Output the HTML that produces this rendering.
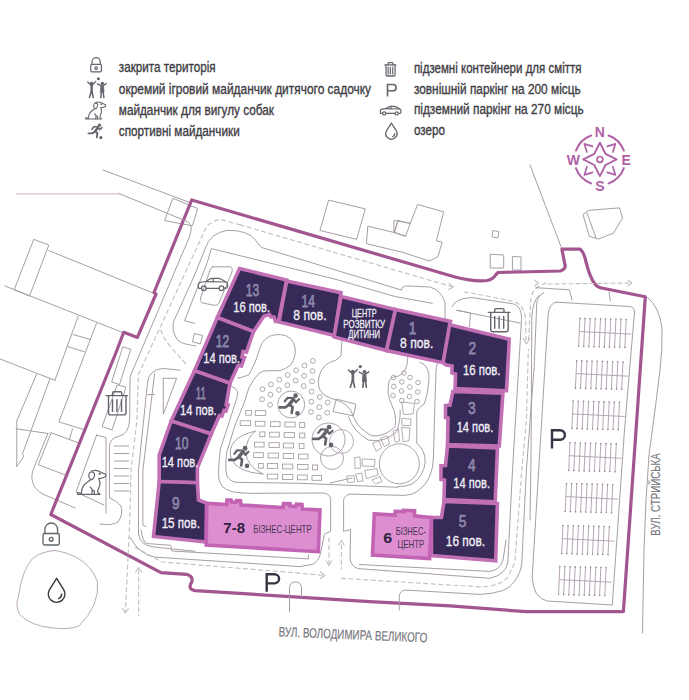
<!DOCTYPE html><html><head><meta charset="utf-8"><style>html,body{margin:0;padding:0;background:#fff;width:689px;height:700px;overflow:hidden}text{font-family:"Liberation Sans",sans-serif}</style></head><body><svg width="689" height="700" viewBox="0 0 689 700" style="display:block">
<rect width="689" height="700" fill="#ffffff"/>
<g font-family="Liberation Sans, sans-serif">
<path d="M103.0 170.0 L189.4 202.4" fill="none" stroke="#a398a3" stroke-width="0.95" stroke-linejoin="round" stroke-linecap="round"/>
<path d="M16.3 193.8 L119.5 193.8" fill="none" stroke="#dcc0d6" stroke-width="1.2" stroke-linejoin="round" stroke-linecap="round"/>
<path d="M173.2 198.4 L197.5 208.5 L192.5 225.8 L165.0 220.7 Z" fill="none" stroke="#a398a3" stroke-width="0.95" stroke-linejoin="round" stroke-linecap="round"/>
<path d="M34.1 239.5 L48.8 245.0 L29.5 296.2 L14.6 289.7 Z" fill="none" stroke="#a398a3" stroke-width="0.95" stroke-linejoin="round" stroke-linecap="round"/>
<path d="M48.8 250.5 L154.0 293.4" fill="none" stroke="#a398a3" stroke-width="0.95" stroke-linejoin="round" stroke-linecap="round"/>
<path d="M5.0 286.0 L124.0 333.0" fill="none" stroke="#a398a3" stroke-width="0.95" stroke-linejoin="round" stroke-linecap="round"/>
<path d="M0.0 359.0 L54.9 380.3" fill="none" stroke="#a398a3" stroke-width="0.95" stroke-linejoin="round" stroke-linecap="round"/>
<path d="M78.2 316.3 L54.9 380.3" fill="none" stroke="#a398a3" stroke-width="0.95" stroke-linejoin="round" stroke-linecap="round"/>
<path d="M96.5 323.4 L58.9 421.9 L85.3 430.0" fill="none" stroke="#a398a3" stroke-width="0.95" stroke-linejoin="round" stroke-linecap="round"/>
<path d="M73.2 334.5 L90.4 339.6" fill="none" stroke="#a398a3" stroke-width="0.95" stroke-linejoin="round" stroke-linecap="round"/>
<path d="M68.0 346.7 L84.3 351.8" fill="none" stroke="#a398a3" stroke-width="0.95" stroke-linejoin="round" stroke-linecap="round"/>
<path d="M36.6 374.2 L16.8 420.8 L16.8 466.3" fill="none" stroke="#a398a3" stroke-width="0.95" stroke-linejoin="round" stroke-linecap="round"/>
<path d="M49.8 379.3 L22.3 454.3 L24.0 456.0 L20.0 462.0 L16.8 466.3" fill="none" stroke="#a398a3" stroke-width="0.95" stroke-linejoin="round" stroke-linecap="round"/>
<path d="M16.0 428.7 L47.9 433.5" fill="none" stroke="#a398a3" stroke-width="0.95" stroke-linejoin="round" stroke-linecap="round"/>
<path d="M51.1 432.7 L80.0 443.5" fill="none" stroke="#a398a3" stroke-width="0.95" stroke-linejoin="round" stroke-linecap="round"/>
<path d="M51.1 432.7 L38.3 464.7 L68.0 476.0" fill="none" stroke="#a398a3" stroke-width="0.95" stroke-linejoin="round" stroke-linecap="round"/>
<path d="M72.6 428.7 L69.4 439.1" fill="none" stroke="#a398a3" stroke-width="0.95" stroke-linejoin="round" stroke-linecap="round"/>
<path d="M47.9 433.5 L33 470 C30 480 33 490 45 495 L75 508" fill="none" stroke="#a398a3" stroke-width="0.95" stroke-linejoin="round" stroke-linecap="round"/>
<path d="M329.0 200.2 L365.3 208.9 L356.6 239.3 L320.3 230.6 Z" fill="none" stroke="#a398a3" stroke-width="0.95" stroke-linejoin="round" stroke-linecap="round"/>
<path d="M368.2 226.3 L394.3 232.5 L398.0 220.5 L410.3 223.4 L417.6 204.5 L443.7 211.8 L436.4 240.8 L442.2 242.2 L437.9 256.8 L429.2 261.1 L403.0 252.4 L366.8 243.7 Z" fill="none" stroke="#a398a3" stroke-width="0.95" stroke-linejoin="round" stroke-linecap="round"/>
<path d="M394.3 220.5 L410.3 223.4 L405.5 236.4 L394.3 232.5 Z" fill="none" stroke="#a398a3" stroke-width="0.95" stroke-linejoin="round" stroke-linecap="round"/>
<path d="M398.0 220.5 L394.3 232.5 L406.0 236.0" fill="none" stroke="#a398a3" stroke-width="0.95" stroke-linejoin="round" stroke-linecap="round"/>
<path d="M493.0 230.6 L498.8 231.6 L498.0 237.9 L492.5 237.0 Z" fill="none" stroke="#a398a3" stroke-width="0.95" stroke-linejoin="round" stroke-linecap="round"/>
<path d="M490.6 254.3 L503.7 255.0 L503.7 268.0 L490.6 268.0 Z" fill="none" stroke="#a398a3" stroke-width="0.95" stroke-linejoin="round" stroke-linecap="round"/>
<path d="M512.8 256.4 L521.0 257.0 L521.0 270.0 L512.8 270.0 Z" fill="none" stroke="#a398a3" stroke-width="0.95" stroke-linejoin="round" stroke-linecap="round"/>
<path d="M589.2 210.3 L619.5 207.9 L622.6 217.9 L613.5 233.1 L598.3 239.1 L589.2 236.1 L583.1 214.9 Z" fill="none" stroke="#a398a3" stroke-width="0.95" stroke-linejoin="round" stroke-linecap="round"/>
<path d="M587.0 213.0 L596.0 238.0" fill="none" stroke="#a398a3" stroke-width="0.95" stroke-linejoin="round" stroke-linecap="round"/>
<path d="M530.0 165.0 L562.0 249.2" fill="none" stroke="#a398a3" stroke-width="0.95" stroke-linejoin="round" stroke-linecap="round"/>
<path d="M647.5 297.5 Q659 306 662 328 Q662.5 350 660 370 L655 410 L649 455 L646 500 L644 550 L642.5 633" fill="none" stroke="#a398a3" stroke-width="0.95" stroke-linejoin="round" stroke-linecap="round"/>
<path d="M50.8 514.5 L117.0 350.0 L123.7 332.3 L137.4 337.4 L156.0 294.0 L154.0 292.5 L191.7 200.0 L455.0 277.0 Q475 282 487 280.5 Q493 279.5 496 274.5 L498 272.5 L560.4 271 Q566 269 565 265 L561.9 249.2 L580.1 249.2 Q584 252 586 262 Q590 278 595.3 284.6 Q598 288 604 288.5 L645.3 296.8 L623.4 611.7 L526.3 611.7 L450 605.8 L369.7 601.7 L195 590.6 Q190.5 590 190 587 Q190 584.5 191.8 582 Q193.5 576.5 186.5 574.3 L161 572.6 Z" fill="none" stroke="#a2558f" stroke-width="3.2" stroke-linejoin="round"/>
<path d="M119.5 193.8 L187.6 221.7 Q192 224.5 191.1 230 Q190 237 186.5 243.8 L131.3 373.7 Q130 376 130 381 L129.6 420 Q129 434 118.5 436.4 Q110 438 109.5 446 L109.5 498 Q116 500 121 506 Q123.5 514 118 522 Q112 526 100 524" fill="none" stroke="#a398a3" stroke-width="0.95" stroke-linejoin="round" stroke-linecap="round"/>
<path d="M96.6 435.1 L106 437.5 L106 513 M96.6 435.1 L76 492 L104 505" fill="none" stroke="#a398a3" stroke-width="0.95" stroke-linejoin="round" stroke-linecap="round"/>
<path d="M123.2 347.0 L130.8 349.3 L119.5 384.5 L112.0 382.0 Z" fill="none" stroke="#a398a3" stroke-width="0.95" stroke-linejoin="round" stroke-linecap="round"/>
<path d="M117.5 385.0 L126.0 387.1 L112.1 430.0 L102.5 426.7 Z" fill="none" stroke="#a398a3" stroke-width="0.95" stroke-linejoin="round" stroke-linecap="round"/>
<path d="M114.3 446.0 L128.8 446.0" fill="none" stroke="#a398a3" stroke-width="0.95" stroke-linejoin="round" stroke-linecap="round"/>
<path d="M114.3 453.5 L128.8 453.5" fill="none" stroke="#a398a3" stroke-width="0.95" stroke-linejoin="round" stroke-linecap="round"/>
<path d="M114.3 461.0 L128.8 461.0" fill="none" stroke="#a398a3" stroke-width="0.95" stroke-linejoin="round" stroke-linecap="round"/>
<path d="M114.3 468.5 L128.8 468.5" fill="none" stroke="#a398a3" stroke-width="0.95" stroke-linejoin="round" stroke-linecap="round"/>
<path d="M114.3 476.0 L128.8 476.0" fill="none" stroke="#a398a3" stroke-width="0.95" stroke-linejoin="round" stroke-linecap="round"/>
<path d="M114.3 483.5 L128.8 483.5" fill="none" stroke="#a398a3" stroke-width="0.95" stroke-linejoin="round" stroke-linecap="round"/>
<path d="M114.3 491.0 L128.8 491.0" fill="none" stroke="#a398a3" stroke-width="0.95" stroke-linejoin="round" stroke-linecap="round"/>
<path d="M240 224.8 L220 219.4 Q208 222 205 229.8 L151.1 347 L138.3 374.8 L137 420 L131 470 L129.8 520 L125.4 612" fill="none" stroke="#c2c4c2" stroke-width="1.2" stroke-dasharray="4 3.5" stroke-linejoin="round" stroke-linecap="round"/>
<path d="M122.5 608.5 L125.4 613 L128.3 608.5" fill="none" stroke="#c2c4c2" stroke-width="1.2" stroke-linejoin="round" stroke-linecap="round"/>
<path d="M138.6 570 L138.6 615.5" fill="none" stroke="#c2c4c2" stroke-width="1.2" stroke-dasharray="4 3.5" stroke-linejoin="round" stroke-linecap="round"/>
<path d="M135.7 572 L138.6 567.5 L141.5 572" fill="none" stroke="#c2c4c2" stroke-width="1.2" stroke-linejoin="round" stroke-linecap="round"/>
<path d="M161 330.4 Q163 338 171.4 347.8 L186 364" fill="none" stroke="#c2c4c2" stroke-width="1.2" stroke-dasharray="4 3.5" stroke-linejoin="round" stroke-linecap="round"/>
<path d="M194.6 275 L205.2 248.6 Q210 233 227.5 230.3 Q248 230 256 240.5 Q259 246 262 247.6 L401.6 290.1 Q402 286 406.6 285.9 L429.8 287 Q441 290 445 302.2 L445 318.4" fill="none" stroke="#a398a3" stroke-width="0.95" stroke-linejoin="round" stroke-linecap="round"/>
<path d="M194.6 275 L173.8 321.1 Q171 330 177.2 339.7 Q181 343 186.5 344.3 L196 346" fill="none" stroke="#a398a3" stroke-width="0.95" stroke-linejoin="round" stroke-linecap="round"/>
<path d="M335 279.1 L211.3 248.6 L207.2 262.8 L184.5 320.8 L194.8 323.3" fill="none" stroke="#a398a3" stroke-width="0.95" stroke-linejoin="round" stroke-linecap="round"/>
<path d="M335 279.1 L395 296.5 L432.2 303.3" fill="none" stroke="#a398a3" stroke-width="0.95" stroke-linejoin="round" stroke-linecap="round"/>
<path d="M212.8 266.8 L230.8 266.8 Q233 268 232 272 L219 303 Q217.9 306 214 305.3 L202 302.8 Q199.5 301 200.5 298 L210 270 Q211 267 212.8 266.8 Z" fill="none" stroke="#a398a3" stroke-width="0.95" stroke-linejoin="round" stroke-linecap="round"/>
<path d="M194.8 333.6 L202.5 335.5 L200.5 343.9 L192.8 342.0 Z" fill="none" stroke="#a398a3" stroke-width="0.95" stroke-linejoin="round" stroke-linecap="round"/>
<path d="M147.6 381.8 Q149 370 162.7 368.4 L180 370.2" fill="none" stroke="#a398a3" stroke-width="0.95" stroke-linejoin="round" stroke-linecap="round"/>
<path d="M147.6 381.8 L138.5 470 L138.5 534 Q140 545 153 546.9 L195 551.3" fill="none" stroke="#a398a3" stroke-width="0.95" stroke-linejoin="round" stroke-linecap="round"/>
<path d="M154.6 373.7 L142.9 470 L142.9 525 L145.8 526.6" fill="none" stroke="#a398a3" stroke-width="0.95" stroke-linejoin="round" stroke-linecap="round"/>
<path d="M147.6 394.6 L154.6 394.6" fill="none" stroke="#a398a3" stroke-width="0.95" stroke-linejoin="round" stroke-linecap="round"/>
<path d="M163.3 378.3 L176.6 378.3 L163.3 414.3 L163.3 378.3" fill="none" stroke="#a398a3" stroke-width="0.95" stroke-linejoin="round" stroke-linecap="round"/>
<path d="M141.1 530 Q143 543 147.3 543.6 L170.7 545.3 L172 551 L300 558.4 L308.3 559 L308.3 555" fill="none" stroke="#a398a3" stroke-width="0.95" stroke-linejoin="round" stroke-linecap="round"/>
<path d="M130 537.4 Q140 555 154.7 557.1 L300 566.6" fill="none" stroke="#a398a3" stroke-width="0.95" stroke-linejoin="round" stroke-linecap="round"/>
<path d="M135 547.3 L162 562 L300 573.2 L323 575.3" fill="none" stroke="#c2c4c2" stroke-width="1.2" stroke-dasharray="4 3.5" stroke-linejoin="round" stroke-linecap="round"/>
<path d="M320.5 572 L324.8 575.5 L320.3 578.5" fill="none" stroke="#c2c4c2" stroke-width="1.2" stroke-linejoin="round" stroke-linecap="round"/>
<path d="M329 538 L329 564" fill="none" stroke="#c2c4c2" stroke-width="1.2" stroke-dasharray="4 3.5" stroke-linejoin="round" stroke-linecap="round"/>
<path d="M326.3 561 L329 565.5 L331.7 561" fill="none" stroke="#c2c4c2" stroke-width="1.2" stroke-linejoin="round" stroke-linecap="round"/>
<path d="M341.4 545 L341.4 568.6" fill="none" stroke="#c2c4c2" stroke-width="1.2" stroke-dasharray="4 3.5" stroke-linejoin="round" stroke-linecap="round"/>
<path d="M338.7 545 L341.4 540.5 L344.1 545" fill="none" stroke="#c2c4c2" stroke-width="1.2" stroke-linejoin="round" stroke-linecap="round"/>
<path d="M350.1 494.1 Q343.6 495.5 343.6 501 L343.6 531.3 L350.5 529.5 L350.1 559.1 Q351 566 357.9 568.6 L490 578.3 Q505 575 507.8 562.8 L512.5 470 L521.6 318.4 Q521.6 307 514 304 L471.6 297.5 Q455 298.5 451.9 306.8" fill="none" stroke="#a398a3" stroke-width="0.95" stroke-linejoin="round" stroke-linecap="round"/>
<path d="M359.3 564.5 L490 571.4 Q500 570 503 560 L506 540" fill="none" stroke="#a398a3" stroke-width="0.95" stroke-linejoin="round" stroke-linecap="round"/>
<path d="M341.4 578.3 L480 586.9 Q506 586 510 572 Q515 565 515.3 556 L521.8 470 L526.4 420 L528.4 349" fill="none" stroke="#c2c4c2" stroke-width="1.2" stroke-dasharray="4 3.5" stroke-linejoin="round" stroke-linecap="round"/>
<path d="M464 292 Q495 297 515 302 Q524 306 525.5 318 L526 342" fill="none" stroke="#c2c4c2" stroke-width="1.2" stroke-dasharray="4 3.5" stroke-linejoin="round" stroke-linecap="round"/>
<path d="M546 283 Q532 287 530.7 300 L528.5 342" fill="none" stroke="#c2c4c2" stroke-width="1.2" stroke-dasharray="4 3.5" stroke-linejoin="round" stroke-linecap="round"/>
<path d="M523.3 338.5 L526.5 344 L529.7 338.5" fill="none" stroke="#c2c4c2" stroke-width="1.2" stroke-linejoin="round" stroke-linecap="round"/>
<path d="M399.3 610 L399.3 596 Q400 591 405 590 L480 594.4 Q508 593 514 582 Q521 573 521.8 562.8 L526.4 470 L534.3 365 L536.7 304.5 Q537 296 543.6 292.9" fill="none" stroke="#a398a3" stroke-width="0.95" stroke-linejoin="round" stroke-linecap="round"/>
<path d="M289.5 612 L289.5 588 Q289.5 582 295.5 582 Q301.5 582 301.5 588 L301.5 597" fill="none" stroke="#a398a3" stroke-width="0.95" stroke-linejoin="round" stroke-linecap="round"/>
<path d="M240 224.8 L453 287" fill="none" stroke="#c2c4c2" stroke-width="1.2" stroke-dasharray="4 3.5" stroke-linejoin="round" stroke-linecap="round"/>
<path d="M449 283.5 L453.5 287 L448.5 289.5" fill="none" stroke="#c2c4c2" stroke-width="1.2" stroke-linejoin="round" stroke-linecap="round"/>
<path d="M456.5 310.3 L520.4 323.1" fill="none" stroke="#a398a3" stroke-width="0.95" stroke-linejoin="round" stroke-linecap="round"/>
<path d="M457.7 310.3 L470.5 313.0 L469.5 326.5" fill="none" stroke="#a398a3" stroke-width="0.95" stroke-linejoin="round" stroke-linecap="round"/>
<path d="M556.7 302.2 L630 306.5 Q634.5 307.5 634.5 312 L624.5 430 L612.3 605 L547.1 601 Q533 598 532.2 576.5 L548.2 314.3 Q549 303 556.7 302.2 Z" fill="none" stroke="#a398a3" stroke-width="0.95" stroke-linejoin="round" stroke-linecap="round"/>
<path d="M539.7 294.9 Q532 300 531.8 320 L531 460 L530 520" fill="none" stroke="#a398a3" stroke-width="0.95" stroke-linejoin="round" stroke-linecap="round"/>
<path d="M536 287.7 L569.5 289.8 L572 300" fill="none" stroke="#a398a3" stroke-width="0.95" stroke-linejoin="round" stroke-linecap="round"/>
<path d="M609 292 L610.4 301.3" fill="none" stroke="#a398a3" stroke-width="0.95" stroke-linejoin="round" stroke-linecap="round"/>
<line x1="579.9" y1="317.9" x2="578.6" y2="346.8" stroke="#b3a0b2" stroke-width="0.95"/>
<circle cx="579.9" cy="318.4" r="0.8" fill="#9a8098"/>
<circle cx="578.6" cy="346.3" r="0.8" fill="#9a8098"/>
<line x1="585.0" y1="318.0" x2="583.7" y2="346.9" stroke="#b3a0b2" stroke-width="0.95"/>
<circle cx="585.0" cy="318.5" r="0.8" fill="#9a8098"/>
<circle cx="583.7" cy="346.4" r="0.8" fill="#9a8098"/>
<line x1="590.2" y1="318.2" x2="588.9" y2="347.1" stroke="#b3a0b2" stroke-width="0.95"/>
<circle cx="590.2" cy="318.7" r="0.8" fill="#9a8098"/>
<circle cx="588.9" cy="346.6" r="0.8" fill="#9a8098"/>
<line x1="595.3" y1="318.3" x2="594.0" y2="347.2" stroke="#b3a0b2" stroke-width="0.95"/>
<circle cx="595.3" cy="318.8" r="0.8" fill="#9a8098"/>
<circle cx="594.0" cy="346.7" r="0.8" fill="#9a8098"/>
<line x1="600.5" y1="318.4" x2="599.2" y2="347.3" stroke="#b3a0b2" stroke-width="0.95"/>
<circle cx="600.5" cy="318.9" r="0.8" fill="#9a8098"/>
<circle cx="599.2" cy="346.8" r="0.8" fill="#9a8098"/>
<line x1="605.6" y1="318.5" x2="604.3" y2="347.4" stroke="#b3a0b2" stroke-width="0.95"/>
<circle cx="605.6" cy="319.0" r="0.8" fill="#9a8098"/>
<circle cx="604.3" cy="346.9" r="0.8" fill="#9a8098"/>
<line x1="610.7" y1="318.7" x2="609.4" y2="347.6" stroke="#b3a0b2" stroke-width="0.95"/>
<circle cx="610.7" cy="319.2" r="0.8" fill="#9a8098"/>
<circle cx="609.4" cy="347.1" r="0.8" fill="#9a8098"/>
<line x1="615.9" y1="318.8" x2="614.6" y2="347.7" stroke="#b3a0b2" stroke-width="0.95"/>
<circle cx="615.9" cy="319.3" r="0.8" fill="#9a8098"/>
<circle cx="614.6" cy="347.2" r="0.8" fill="#9a8098"/>
<line x1="621.0" y1="318.9" x2="619.7" y2="347.8" stroke="#b3a0b2" stroke-width="0.95"/>
<circle cx="621.0" cy="319.4" r="0.8" fill="#9a8098"/>
<circle cx="619.7" cy="347.3" r="0.8" fill="#9a8098"/>
<line x1="626.2" y1="319.1" x2="624.9" y2="348.0" stroke="#b3a0b2" stroke-width="0.95"/>
<circle cx="626.2" cy="319.6" r="0.8" fill="#9a8098"/>
<circle cx="624.9" cy="347.5" r="0.8" fill="#9a8098"/>
<line x1="579.1" y1="331.5" x2="631.4" y2="334.1" stroke="#b3a0b2" stroke-width="0.95"/>
<line x1="576.7" y1="360.3" x2="575.4" y2="388.6" stroke="#b3a0b2" stroke-width="0.95"/>
<circle cx="576.7" cy="360.8" r="0.8" fill="#9a8098"/>
<circle cx="575.4" cy="388.1" r="0.8" fill="#9a8098"/>
<line x1="581.8" y1="360.4" x2="580.5" y2="388.7" stroke="#b3a0b2" stroke-width="0.95"/>
<circle cx="581.8" cy="360.9" r="0.8" fill="#9a8098"/>
<circle cx="580.5" cy="388.2" r="0.8" fill="#9a8098"/>
<line x1="587.0" y1="360.6" x2="585.7" y2="388.9" stroke="#b3a0b2" stroke-width="0.95"/>
<circle cx="587.0" cy="361.1" r="0.8" fill="#9a8098"/>
<circle cx="585.7" cy="388.4" r="0.8" fill="#9a8098"/>
<line x1="592.1" y1="360.7" x2="590.8" y2="389.0" stroke="#b3a0b2" stroke-width="0.95"/>
<circle cx="592.1" cy="361.2" r="0.8" fill="#9a8098"/>
<circle cx="590.8" cy="388.5" r="0.8" fill="#9a8098"/>
<line x1="597.3" y1="360.8" x2="596.0" y2="389.1" stroke="#b3a0b2" stroke-width="0.95"/>
<circle cx="597.3" cy="361.3" r="0.8" fill="#9a8098"/>
<circle cx="596.0" cy="388.6" r="0.8" fill="#9a8098"/>
<line x1="602.4" y1="360.9" x2="601.1" y2="389.2" stroke="#b3a0b2" stroke-width="0.95"/>
<circle cx="602.4" cy="361.4" r="0.8" fill="#9a8098"/>
<circle cx="601.1" cy="388.8" r="0.8" fill="#9a8098"/>
<line x1="607.5" y1="361.1" x2="606.2" y2="389.4" stroke="#b3a0b2" stroke-width="0.95"/>
<circle cx="607.5" cy="361.6" r="0.8" fill="#9a8098"/>
<circle cx="606.2" cy="388.9" r="0.8" fill="#9a8098"/>
<line x1="612.7" y1="361.2" x2="611.4" y2="389.5" stroke="#b3a0b2" stroke-width="0.95"/>
<circle cx="612.7" cy="361.7" r="0.8" fill="#9a8098"/>
<circle cx="611.4" cy="389.0" r="0.8" fill="#9a8098"/>
<line x1="617.8" y1="361.3" x2="616.5" y2="389.6" stroke="#b3a0b2" stroke-width="0.95"/>
<circle cx="617.8" cy="361.8" r="0.8" fill="#9a8098"/>
<circle cx="616.5" cy="389.1" r="0.8" fill="#9a8098"/>
<line x1="623.0" y1="361.5" x2="621.7" y2="389.8" stroke="#b3a0b2" stroke-width="0.95"/>
<circle cx="623.0" cy="362.0" r="0.8" fill="#9a8098"/>
<circle cx="621.7" cy="389.3" r="0.8" fill="#9a8098"/>
<line x1="575.9" y1="373.6" x2="628.2" y2="376.2" stroke="#b3a0b2" stroke-width="0.95"/>
<line x1="573.2" y1="400.6" x2="571.9" y2="429.0" stroke="#b3a0b2" stroke-width="0.95"/>
<circle cx="573.2" cy="401.1" r="0.8" fill="#9a8098"/>
<circle cx="571.9" cy="428.5" r="0.8" fill="#9a8098"/>
<line x1="578.3" y1="400.7" x2="577.0" y2="429.1" stroke="#b3a0b2" stroke-width="0.95"/>
<circle cx="578.3" cy="401.2" r="0.8" fill="#9a8098"/>
<circle cx="577.0" cy="428.6" r="0.8" fill="#9a8098"/>
<line x1="583.5" y1="400.9" x2="582.2" y2="429.3" stroke="#b3a0b2" stroke-width="0.95"/>
<circle cx="583.5" cy="401.4" r="0.8" fill="#9a8098"/>
<circle cx="582.2" cy="428.8" r="0.8" fill="#9a8098"/>
<line x1="588.6" y1="401.0" x2="587.3" y2="429.4" stroke="#b3a0b2" stroke-width="0.95"/>
<circle cx="588.6" cy="401.5" r="0.8" fill="#9a8098"/>
<circle cx="587.3" cy="428.9" r="0.8" fill="#9a8098"/>
<line x1="593.8" y1="401.1" x2="592.5" y2="429.5" stroke="#b3a0b2" stroke-width="0.95"/>
<circle cx="593.8" cy="401.6" r="0.8" fill="#9a8098"/>
<circle cx="592.5" cy="429.0" r="0.8" fill="#9a8098"/>
<line x1="598.9" y1="401.2" x2="597.6" y2="429.6" stroke="#b3a0b2" stroke-width="0.95"/>
<circle cx="598.9" cy="401.8" r="0.8" fill="#9a8098"/>
<circle cx="597.6" cy="429.1" r="0.8" fill="#9a8098"/>
<line x1="604.0" y1="401.4" x2="602.7" y2="429.8" stroke="#b3a0b2" stroke-width="0.95"/>
<circle cx="604.0" cy="401.9" r="0.8" fill="#9a8098"/>
<circle cx="602.7" cy="429.3" r="0.8" fill="#9a8098"/>
<line x1="609.2" y1="401.5" x2="607.9" y2="429.9" stroke="#b3a0b2" stroke-width="0.95"/>
<circle cx="609.2" cy="402.0" r="0.8" fill="#9a8098"/>
<circle cx="607.9" cy="429.4" r="0.8" fill="#9a8098"/>
<line x1="614.3" y1="401.6" x2="613.0" y2="430.0" stroke="#b3a0b2" stroke-width="0.95"/>
<circle cx="614.3" cy="402.1" r="0.8" fill="#9a8098"/>
<circle cx="613.0" cy="429.5" r="0.8" fill="#9a8098"/>
<line x1="619.5" y1="401.8" x2="618.2" y2="430.2" stroke="#b3a0b2" stroke-width="0.95"/>
<circle cx="619.5" cy="402.3" r="0.8" fill="#9a8098"/>
<circle cx="618.2" cy="429.7" r="0.8" fill="#9a8098"/>
<line x1="572.4" y1="413.9" x2="624.7" y2="416.5" stroke="#b3a0b2" stroke-width="0.95"/>
<line x1="570.0" y1="442.2" x2="568.7" y2="471.0" stroke="#b3a0b2" stroke-width="0.95"/>
<circle cx="570.0" cy="442.7" r="0.8" fill="#9a8098"/>
<circle cx="568.7" cy="470.5" r="0.8" fill="#9a8098"/>
<line x1="575.1" y1="442.3" x2="573.8" y2="471.1" stroke="#b3a0b2" stroke-width="0.95"/>
<circle cx="575.1" cy="442.8" r="0.8" fill="#9a8098"/>
<circle cx="573.8" cy="470.6" r="0.8" fill="#9a8098"/>
<line x1="580.3" y1="442.5" x2="579.0" y2="471.3" stroke="#b3a0b2" stroke-width="0.95"/>
<circle cx="580.3" cy="443.0" r="0.8" fill="#9a8098"/>
<circle cx="579.0" cy="470.8" r="0.8" fill="#9a8098"/>
<line x1="585.4" y1="442.6" x2="584.1" y2="471.4" stroke="#b3a0b2" stroke-width="0.95"/>
<circle cx="585.4" cy="443.1" r="0.8" fill="#9a8098"/>
<circle cx="584.1" cy="470.9" r="0.8" fill="#9a8098"/>
<line x1="590.6" y1="442.7" x2="589.3" y2="471.5" stroke="#b3a0b2" stroke-width="0.95"/>
<circle cx="590.6" cy="443.2" r="0.8" fill="#9a8098"/>
<circle cx="589.3" cy="471.0" r="0.8" fill="#9a8098"/>
<line x1="595.7" y1="442.8" x2="594.4" y2="471.6" stroke="#b3a0b2" stroke-width="0.95"/>
<circle cx="595.7" cy="443.3" r="0.8" fill="#9a8098"/>
<circle cx="594.4" cy="471.1" r="0.8" fill="#9a8098"/>
<line x1="600.8" y1="443.0" x2="599.5" y2="471.8" stroke="#b3a0b2" stroke-width="0.95"/>
<circle cx="600.8" cy="443.5" r="0.8" fill="#9a8098"/>
<circle cx="599.5" cy="471.3" r="0.8" fill="#9a8098"/>
<line x1="606.0" y1="443.1" x2="604.7" y2="471.9" stroke="#b3a0b2" stroke-width="0.95"/>
<circle cx="606.0" cy="443.6" r="0.8" fill="#9a8098"/>
<circle cx="604.7" cy="471.4" r="0.8" fill="#9a8098"/>
<line x1="611.1" y1="443.2" x2="609.8" y2="472.0" stroke="#b3a0b2" stroke-width="0.95"/>
<circle cx="611.1" cy="443.7" r="0.8" fill="#9a8098"/>
<circle cx="609.8" cy="471.5" r="0.8" fill="#9a8098"/>
<line x1="616.3" y1="443.4" x2="615.0" y2="472.2" stroke="#b3a0b2" stroke-width="0.95"/>
<circle cx="616.3" cy="443.9" r="0.8" fill="#9a8098"/>
<circle cx="615.0" cy="471.7" r="0.8" fill="#9a8098"/>
<line x1="569.2" y1="455.7" x2="621.5" y2="458.3" stroke="#b3a0b2" stroke-width="0.95"/>
<line x1="566.5" y1="483.0" x2="565.2" y2="512.0" stroke="#b3a0b2" stroke-width="0.95"/>
<circle cx="566.5" cy="483.5" r="0.8" fill="#9a8098"/>
<circle cx="565.2" cy="511.5" r="0.8" fill="#9a8098"/>
<line x1="571.6" y1="483.1" x2="570.3" y2="512.1" stroke="#b3a0b2" stroke-width="0.95"/>
<circle cx="571.6" cy="483.6" r="0.8" fill="#9a8098"/>
<circle cx="570.3" cy="511.6" r="0.8" fill="#9a8098"/>
<line x1="576.8" y1="483.3" x2="575.5" y2="512.3" stroke="#b3a0b2" stroke-width="0.95"/>
<circle cx="576.8" cy="483.8" r="0.8" fill="#9a8098"/>
<circle cx="575.5" cy="511.8" r="0.8" fill="#9a8098"/>
<line x1="581.9" y1="483.4" x2="580.6" y2="512.4" stroke="#b3a0b2" stroke-width="0.95"/>
<circle cx="581.9" cy="483.9" r="0.8" fill="#9a8098"/>
<circle cx="580.6" cy="511.9" r="0.8" fill="#9a8098"/>
<line x1="587.1" y1="483.5" x2="585.8" y2="512.5" stroke="#b3a0b2" stroke-width="0.95"/>
<circle cx="587.1" cy="484.0" r="0.8" fill="#9a8098"/>
<circle cx="585.8" cy="512.0" r="0.8" fill="#9a8098"/>
<line x1="592.2" y1="483.6" x2="590.9" y2="512.6" stroke="#b3a0b2" stroke-width="0.95"/>
<circle cx="592.2" cy="484.1" r="0.8" fill="#9a8098"/>
<circle cx="590.9" cy="512.1" r="0.8" fill="#9a8098"/>
<line x1="597.3" y1="483.8" x2="596.0" y2="512.8" stroke="#b3a0b2" stroke-width="0.95"/>
<circle cx="597.3" cy="484.3" r="0.8" fill="#9a8098"/>
<circle cx="596.0" cy="512.3" r="0.8" fill="#9a8098"/>
<line x1="602.5" y1="483.9" x2="601.2" y2="512.9" stroke="#b3a0b2" stroke-width="0.95"/>
<circle cx="602.5" cy="484.4" r="0.8" fill="#9a8098"/>
<circle cx="601.2" cy="512.4" r="0.8" fill="#9a8098"/>
<line x1="607.6" y1="484.0" x2="606.3" y2="513.0" stroke="#b3a0b2" stroke-width="0.95"/>
<circle cx="607.6" cy="484.5" r="0.8" fill="#9a8098"/>
<circle cx="606.3" cy="512.5" r="0.8" fill="#9a8098"/>
<line x1="612.8" y1="484.2" x2="611.5" y2="513.2" stroke="#b3a0b2" stroke-width="0.95"/>
<circle cx="612.8" cy="484.7" r="0.8" fill="#9a8098"/>
<circle cx="611.5" cy="512.7" r="0.8" fill="#9a8098"/>
<line x1="565.7" y1="496.6" x2="618.0" y2="499.2" stroke="#b3a0b2" stroke-width="0.95"/>
<line x1="563.0" y1="525.0" x2="561.7" y2="554.0" stroke="#b3a0b2" stroke-width="0.95"/>
<circle cx="563.0" cy="525.5" r="0.8" fill="#9a8098"/>
<circle cx="561.7" cy="553.5" r="0.8" fill="#9a8098"/>
<line x1="568.1" y1="525.1" x2="566.8" y2="554.1" stroke="#b3a0b2" stroke-width="0.95"/>
<circle cx="568.1" cy="525.6" r="0.8" fill="#9a8098"/>
<circle cx="566.8" cy="553.6" r="0.8" fill="#9a8098"/>
<line x1="573.3" y1="525.3" x2="572.0" y2="554.3" stroke="#b3a0b2" stroke-width="0.95"/>
<circle cx="573.3" cy="525.8" r="0.8" fill="#9a8098"/>
<circle cx="572.0" cy="553.8" r="0.8" fill="#9a8098"/>
<line x1="578.4" y1="525.4" x2="577.1" y2="554.4" stroke="#b3a0b2" stroke-width="0.95"/>
<circle cx="578.4" cy="525.9" r="0.8" fill="#9a8098"/>
<circle cx="577.1" cy="553.9" r="0.8" fill="#9a8098"/>
<line x1="583.6" y1="525.5" x2="582.3" y2="554.5" stroke="#b3a0b2" stroke-width="0.95"/>
<circle cx="583.6" cy="526.0" r="0.8" fill="#9a8098"/>
<circle cx="582.3" cy="554.0" r="0.8" fill="#9a8098"/>
<line x1="588.7" y1="525.6" x2="587.4" y2="554.6" stroke="#b3a0b2" stroke-width="0.95"/>
<circle cx="588.7" cy="526.1" r="0.8" fill="#9a8098"/>
<circle cx="587.4" cy="554.1" r="0.8" fill="#9a8098"/>
<line x1="593.8" y1="525.8" x2="592.5" y2="554.8" stroke="#b3a0b2" stroke-width="0.95"/>
<circle cx="593.8" cy="526.3" r="0.8" fill="#9a8098"/>
<circle cx="592.5" cy="554.3" r="0.8" fill="#9a8098"/>
<line x1="599.0" y1="525.9" x2="597.7" y2="554.9" stroke="#b3a0b2" stroke-width="0.95"/>
<circle cx="599.0" cy="526.4" r="0.8" fill="#9a8098"/>
<circle cx="597.7" cy="554.4" r="0.8" fill="#9a8098"/>
<line x1="604.1" y1="526.0" x2="602.8" y2="555.0" stroke="#b3a0b2" stroke-width="0.95"/>
<circle cx="604.1" cy="526.5" r="0.8" fill="#9a8098"/>
<circle cx="602.8" cy="554.5" r="0.8" fill="#9a8098"/>
<line x1="609.3" y1="526.2" x2="608.0" y2="555.2" stroke="#b3a0b2" stroke-width="0.95"/>
<circle cx="609.3" cy="526.7" r="0.8" fill="#9a8098"/>
<circle cx="608.0" cy="554.7" r="0.8" fill="#9a8098"/>
<line x1="562.2" y1="538.6" x2="614.5" y2="541.2" stroke="#b3a0b2" stroke-width="0.95"/>
<line x1="559.8" y1="566.0" x2="558.5" y2="595.0" stroke="#b3a0b2" stroke-width="0.95"/>
<circle cx="559.8" cy="566.5" r="0.8" fill="#9a8098"/>
<circle cx="558.5" cy="594.5" r="0.8" fill="#9a8098"/>
<line x1="564.9" y1="566.1" x2="563.6" y2="595.1" stroke="#b3a0b2" stroke-width="0.95"/>
<circle cx="564.9" cy="566.6" r="0.8" fill="#9a8098"/>
<circle cx="563.6" cy="594.6" r="0.8" fill="#9a8098"/>
<line x1="570.1" y1="566.3" x2="568.8" y2="595.3" stroke="#b3a0b2" stroke-width="0.95"/>
<circle cx="570.1" cy="566.8" r="0.8" fill="#9a8098"/>
<circle cx="568.8" cy="594.8" r="0.8" fill="#9a8098"/>
<line x1="575.2" y1="566.4" x2="573.9" y2="595.4" stroke="#b3a0b2" stroke-width="0.95"/>
<circle cx="575.2" cy="566.9" r="0.8" fill="#9a8098"/>
<circle cx="573.9" cy="594.9" r="0.8" fill="#9a8098"/>
<line x1="580.4" y1="566.5" x2="579.1" y2="595.5" stroke="#b3a0b2" stroke-width="0.95"/>
<circle cx="580.4" cy="567.0" r="0.8" fill="#9a8098"/>
<circle cx="579.1" cy="595.0" r="0.8" fill="#9a8098"/>
<line x1="585.5" y1="566.6" x2="584.2" y2="595.6" stroke="#b3a0b2" stroke-width="0.95"/>
<circle cx="585.5" cy="567.1" r="0.8" fill="#9a8098"/>
<circle cx="584.2" cy="595.1" r="0.8" fill="#9a8098"/>
<line x1="590.6" y1="566.8" x2="589.3" y2="595.8" stroke="#b3a0b2" stroke-width="0.95"/>
<circle cx="590.6" cy="567.3" r="0.8" fill="#9a8098"/>
<circle cx="589.3" cy="595.3" r="0.8" fill="#9a8098"/>
<line x1="595.8" y1="566.9" x2="594.5" y2="595.9" stroke="#b3a0b2" stroke-width="0.95"/>
<circle cx="595.8" cy="567.4" r="0.8" fill="#9a8098"/>
<circle cx="594.5" cy="595.4" r="0.8" fill="#9a8098"/>
<line x1="600.9" y1="567.0" x2="599.6" y2="596.0" stroke="#b3a0b2" stroke-width="0.95"/>
<circle cx="600.9" cy="567.5" r="0.8" fill="#9a8098"/>
<circle cx="599.6" cy="595.5" r="0.8" fill="#9a8098"/>
<line x1="606.1" y1="567.2" x2="604.8" y2="596.2" stroke="#b3a0b2" stroke-width="0.95"/>
<circle cx="606.1" cy="567.7" r="0.8" fill="#9a8098"/>
<circle cx="604.8" cy="595.7" r="0.8" fill="#9a8098"/>
<line x1="559.0" y1="579.6" x2="611.3" y2="582.2" stroke="#b3a0b2" stroke-width="0.95"/>
<path d="M548 284 L631.6 283" fill="none" stroke="#c2c4c2" stroke-width="1.1" stroke-dasharray="4 3" stroke-linejoin="round" stroke-linecap="round"/>
<path d="M628 280 L632 283 L628 286" fill="none" stroke="#c2c4c2" stroke-width="1.1" stroke-linejoin="round" stroke-linecap="round"/>
<path d="M534.6 280 L538.4 283 L534.6 286" fill="none" stroke="#c2c4c2" stroke-width="1.1" stroke-linejoin="round" stroke-linecap="round"/>
<path d="M237.7 378 Q241 378 244 376.5 Q248 375 249 374.7 L255.3 361.9 L260.1 347.6 Q262 342 264.9 339.6 Q269 335.5 274.5 334.8 Q281 334 285.7 335.6 Q291 338 293.6 342.8 Q296 348 295.2 354 Q294 361 290.5 365.1 Q286 369 279.3 370.7 L266.5 370.7 Q262 371 259.3 373.1 Q254 378 249 387.5 L244.1 403.1 L235.1 425 L226.6 452.7 Q225 468 226.6 475 Q229 481 236 482.3 L300 483.3 L398 487.3" fill="none" stroke="#a398a3" stroke-width="0.95" stroke-linejoin="round" stroke-linecap="round"/>
<path d="M350.1 494.1 L404.8 495.4 Q413 495 418 491 Q426 485 429.5 477 Q433 468 433.3 460 L435.2 395 L436 372 Q436 362 441 359" fill="none" stroke="#a398a3" stroke-width="0.95" stroke-linejoin="round" stroke-linecap="round"/>
<path d="M231.3 386.4 Q236 388 237.7 391.6 Q238 395 236.4 399.3 L228.7 423.7 L220.4 449 Q218 468 218.8 478.8 Q221 488 229.3 490.7 Q235 493 250 493.3 L323.5 493 Q330.6 494 330.6 499.5 L330.6 531.3 L324.5 534 L320.4 553.6 Q318.5 562 312 564.5 L300 566.6" fill="none" stroke="#a398a3" stroke-width="0.95" stroke-linejoin="round" stroke-linecap="round"/>
<circle cx="262.5" cy="389.1" r="2.4" fill="none" stroke="#a398a3" stroke-width="0.85"/>
<circle cx="270.9" cy="384.4" r="2.4" fill="none" stroke="#a398a3" stroke-width="0.85"/>
<circle cx="279.3" cy="379.7" r="2.4" fill="none" stroke="#a398a3" stroke-width="0.85"/>
<circle cx="287.7" cy="375.0" r="2.4" fill="none" stroke="#a398a3" stroke-width="0.85"/>
<circle cx="296.1" cy="370.3" r="2.4" fill="none" stroke="#a398a3" stroke-width="0.85"/>
<circle cx="304.5" cy="365.6" r="2.4" fill="none" stroke="#a398a3" stroke-width="0.85"/>
<circle cx="312.9" cy="360.9" r="2.4" fill="none" stroke="#a398a3" stroke-width="0.85"/>
<circle cx="262.1" cy="399.3" r="2.4" fill="none" stroke="#a398a3" stroke-width="0.85"/>
<circle cx="270.5" cy="394.6" r="2.4" fill="none" stroke="#a398a3" stroke-width="0.85"/>
<circle cx="278.9" cy="389.9" r="2.4" fill="none" stroke="#a398a3" stroke-width="0.85"/>
<circle cx="287.3" cy="385.2" r="2.4" fill="none" stroke="#a398a3" stroke-width="0.85"/>
<circle cx="295.7" cy="380.5" r="2.4" fill="none" stroke="#a398a3" stroke-width="0.85"/>
<circle cx="304.1" cy="375.8" r="2.4" fill="none" stroke="#a398a3" stroke-width="0.85"/>
<circle cx="312.5" cy="371.1" r="2.4" fill="none" stroke="#a398a3" stroke-width="0.85"/>
<circle cx="270.1" cy="404.8" r="2.4" fill="none" stroke="#a398a3" stroke-width="0.85"/>
<circle cx="303.7" cy="386.0" r="2.4" fill="none" stroke="#a398a3" stroke-width="0.85"/>
<circle cx="312.1" cy="381.3" r="2.4" fill="none" stroke="#a398a3" stroke-width="0.85"/>
<circle cx="311.7" cy="391.5" r="2.4" fill="none" stroke="#a398a3" stroke-width="0.85"/>
<circle cx="311.3" cy="401.7" r="2.4" fill="none" stroke="#a398a3" stroke-width="0.85"/>
<circle cx="319.7" cy="397.0" r="2.4" fill="none" stroke="#a398a3" stroke-width="0.85"/>
<circle cx="310.9" cy="411.9" r="2.4" fill="none" stroke="#a398a3" stroke-width="0.85"/>
<circle cx="319.3" cy="407.2" r="2.4" fill="none" stroke="#a398a3" stroke-width="0.85"/>
<circle cx="327.7" cy="402.5" r="2.4" fill="none" stroke="#a398a3" stroke-width="0.85"/>
<circle cx="318.9" cy="417.4" r="2.4" fill="none" stroke="#a398a3" stroke-width="0.85"/>
<circle cx="327.3" cy="412.7" r="2.4" fill="none" stroke="#a398a3" stroke-width="0.85"/>
<circle cx="393.8" cy="386.5" r="2.3" fill="none" stroke="#a398a3" stroke-width="0.85"/>
<circle cx="401.8" cy="381.9" r="2.3" fill="none" stroke="#a398a3" stroke-width="0.85"/>
<circle cx="410.0" cy="377.5" r="2.3" fill="none" stroke="#a398a3" stroke-width="0.85"/>
<circle cx="418.0" cy="382.5" r="2.3" fill="none" stroke="#a398a3" stroke-width="0.85"/>
<circle cx="393.0" cy="395.5" r="2.3" fill="none" stroke="#a398a3" stroke-width="0.85"/>
<circle cx="401.5" cy="391.0" r="2.3" fill="none" stroke="#a398a3" stroke-width="0.85"/>
<circle cx="409.8" cy="387.0" r="2.3" fill="none" stroke="#a398a3" stroke-width="0.85"/>
<circle cx="417.8" cy="392.0" r="2.3" fill="none" stroke="#a398a3" stroke-width="0.85"/>
<circle cx="401.8" cy="400.5" r="2.3" fill="none" stroke="#a398a3" stroke-width="0.85"/>
<circle cx="409.5" cy="396.5" r="2.3" fill="none" stroke="#a398a3" stroke-width="0.85"/>
<circle cx="417.0" cy="401.5" r="2.3" fill="none" stroke="#a398a3" stroke-width="0.85"/>
<circle cx="393.4" cy="377.5" r="2.3" fill="none" stroke="#a398a3" stroke-width="0.85"/>
<circle cx="404.0" cy="373.0" r="2.3" fill="none" stroke="#a398a3" stroke-width="0.85"/>
<rect x="245.8" y="410.4" width="5.5" height="4.8" fill="none" stroke="#a398a3" stroke-width="0.85"/>
<rect x="255.3" y="410.7" width="10.4" height="4.8" fill="none" stroke="#a398a3" stroke-width="0.85"/>
<rect x="240.2" y="420.8" width="10.3" height="4.8" fill="none" stroke="#a398a3" stroke-width="0.85"/>
<rect x="255.3" y="421.3" width="9.6" height="4.8" fill="none" stroke="#a398a3" stroke-width="0.85"/>
<rect x="270.5" y="421.7" width="9.6" height="4.8" fill="none" stroke="#a398a3" stroke-width="0.85"/>
<rect x="284.9" y="422.1" width="10.3" height="4.8" fill="none" stroke="#a398a3" stroke-width="0.85"/>
<rect x="299.7" y="422.6" width="5.1" height="4.8" fill="none" stroke="#a398a3" stroke-width="0.85"/>
<rect x="259.8" y="431.9" width="5.1" height="4.8" fill="none" stroke="#a398a3" stroke-width="0.85"/>
<rect x="269.7" y="432.2" width="9.6" height="4.8" fill="none" stroke="#a398a3" stroke-width="0.85"/>
<rect x="284.1" y="432.6" width="10.3" height="4.8" fill="none" stroke="#a398a3" stroke-width="0.85"/>
<rect x="299.7" y="433.1" width="5.1" height="4.8" fill="none" stroke="#a398a3" stroke-width="0.85"/>
<rect x="254.5" y="442.2" width="9.6" height="4.8" fill="none" stroke="#a398a3" stroke-width="0.85"/>
<rect x="268.9" y="442.7" width="10.4" height="4.8" fill="none" stroke="#a398a3" stroke-width="0.85"/>
<rect x="283.3" y="443.1" width="10.3" height="4.8" fill="none" stroke="#a398a3" stroke-width="0.85"/>
<rect x="299.2" y="443.6" width="4.8" height="4.8" fill="none" stroke="#a398a3" stroke-width="0.85"/>
<rect x="253.7" y="452.7" width="9.6" height="4.8" fill="none" stroke="#a398a3" stroke-width="0.85"/>
<rect x="268.1" y="453.1" width="10.4" height="4.8" fill="none" stroke="#a398a3" stroke-width="0.85"/>
<rect x="283.3" y="453.6" width="10.3" height="4.8" fill="none" stroke="#a398a3" stroke-width="0.85"/>
<rect x="298.4" y="454.1" width="9.6" height="4.8" fill="none" stroke="#a398a3" stroke-width="0.85"/>
<rect x="258.5" y="463.4" width="4.8" height="4.8" fill="none" stroke="#a398a3" stroke-width="0.85"/>
<rect x="267.3" y="463.6" width="10.4" height="4.8" fill="none" stroke="#a398a3" stroke-width="0.85"/>
<rect x="282.5" y="464.1" width="10.3" height="4.8" fill="none" stroke="#a398a3" stroke-width="0.85"/>
<rect x="297.6" y="464.5" width="10.4" height="4.8" fill="none" stroke="#a398a3" stroke-width="0.85"/>
<rect x="312.5" y="465.0" width="5.1" height="4.8" fill="none" stroke="#a398a3" stroke-width="0.85"/>
<rect x="267.3" y="474.1" width="10.4" height="4.8" fill="none" stroke="#a398a3" stroke-width="0.85"/>
<rect x="282.5" y="474.6" width="10.3" height="4.8" fill="none" stroke="#a398a3" stroke-width="0.85"/>
<rect x="297.6" y="475.0" width="9.6" height="4.8" fill="none" stroke="#a398a3" stroke-width="0.85"/>
<rect x="312.0" y="475.5" width="9.6" height="4.8" fill="none" stroke="#a398a3" stroke-width="0.85"/>
<path d="M255.3 431.1 Q226 438 231 458 Q236 472 263.3 474.2 Q246 466 246 452 Q246 438 255.3 431.1 Z" fill="none" stroke="#a398a3" stroke-width="0.95" stroke-linejoin="round" stroke-linecap="round"/>
<circle cx="291.2" cy="404.5" r="13.5" fill="none" stroke="#a398a3" stroke-width="0.9"/>
<circle cx="328.5" cy="439.5" r="16.5" fill="none" stroke="#a398a3" stroke-width="0.9"/>
<circle cx="341.5" cy="441.5" r="12.0" fill="none" stroke="#b6a4b4" stroke-width="0.9"/>
<circle cx="332.0" cy="458.0" r="11.5" fill="none" stroke="#a398a3" stroke-width="0.9"/>
<path d="M342.3 335 L341 356 Q336 361 329.7 362.5 Q320 367 318.3 380.8 Q318 392 326 396 Q332 399 336 400 Q350 404 353.4 416.7 Q358 428.4 371.7 435.9 Q385 437 395.1 426.7 Q397 416 391.8 405 Q386 394 389.2 380.8 Q392 376 398.4 376.2 Q407 372 407.5 360.2 Q408 352 410 345" fill="none" stroke="#a398a3" stroke-width="0.95" stroke-linejoin="round" stroke-linecap="round"/>
<path d="M348.4 416.7 Q353.4 431.7 368.4 440.1 Q385 443 396.8 431.7 Q401 418 400.1 410" fill="none" stroke="#a398a3" stroke-width="0.95" stroke-linejoin="round" stroke-linecap="round"/>
<path d="M336.7 399.2 L355.9 404.2 L353.4 415.9 L333.3 411.7 Z" fill="none" stroke="#a398a3" stroke-width="0.95" stroke-linejoin="round" stroke-linecap="round"/>
<path d="M420 362 Q430 366 429 380 Q427 398 424 404 Q418 408 416.8 411.7 L416.8 443.4 Q425.2 450 425.2 461.8 Q424 476 412 484 Q405 487 398 486.5" fill="none" stroke="#a398a3" stroke-width="0.95" stroke-linejoin="round" stroke-linecap="round"/>
<circle cx="399.3" cy="463.8" r="20.0" fill="none" stroke="#a398a3" stroke-width="0.9"/>
<path d="M402.0 402.0 L414.5 403.5 L413.0 414.0 L404.0 414.5 Z" fill="none" stroke="#a398a3" stroke-width="0.8" stroke-linejoin="round" stroke-linecap="round"/>
<path d="M402.0 418.5 L411.0 419.0 L410.5 425.5 L402.5 425.5 Z" fill="none" stroke="#a398a3" stroke-width="0.8" stroke-linejoin="round" stroke-linecap="round"/>
<path d="M402.0 427.5 L410.0 428.0 L409.0 441.0 L403.5 441.5 Z" fill="none" stroke="#a398a3" stroke-width="0.8" stroke-linejoin="round" stroke-linecap="round"/>
<path d="M393.5 431.0 L398.5 429.0 L399.5 441.0 L395.5 442.0 Z" fill="none" stroke="#a398a3" stroke-width="0.8" stroke-linejoin="round" stroke-linecap="round"/>
<path d="M381.0 438.0 L387.5 436.0 L389.5 444.0 L384.5 446.5 Z" fill="none" stroke="#a398a3" stroke-width="0.8" stroke-linejoin="round" stroke-linecap="round"/>
<path d="M373.0 443.0 L379.0 441.0 L381.5 448.0 L376.5 451.0 Z" fill="none" stroke="#a398a3" stroke-width="0.8" stroke-linejoin="round" stroke-linecap="round"/>
<path d="M355.0 457.5 L360.0 457.0 L360.5 468.0 L355.5 468.5 Z" fill="none" stroke="#a398a3" stroke-width="0.8" stroke-linejoin="round" stroke-linecap="round"/>
<path d="M362.5 459.0 L375.0 459.5 L374.5 466.5 L362.5 466.0 Z" fill="none" stroke="#a398a3" stroke-width="0.8" stroke-linejoin="round" stroke-linecap="round"/>
<path d="M365.0 470.5 L377.0 468.5 L378.0 475.0 L367.0 478.5 Z" fill="none" stroke="#a398a3" stroke-width="0.8" stroke-linejoin="round" stroke-linecap="round"/>
<path d="M356.0 474.0 L362.0 473.0 L363.0 481.0 L358.0 481.5 Z" fill="none" stroke="#a398a3" stroke-width="0.8" stroke-linejoin="round" stroke-linecap="round"/>
<path d="M347.0 476.0 L354.0 475.5 L354.5 482.0 L348.0 482.5 Z" fill="none" stroke="#a398a3" stroke-width="0.8" stroke-linejoin="round" stroke-linecap="round"/>
<path d="M372.0 480.0 L380.0 476.5 L382.0 481.5 L376.0 484.0 Z" fill="none" stroke="#a398a3" stroke-width="0.8" stroke-linejoin="round" stroke-linecap="round"/>
<path d="M330 483 L352 478" fill="none" stroke="#a398a3" stroke-width="0.95" stroke-linejoin="round" stroke-linecap="round"/>
<polygon points="239.5,268.5 286.7,280.0 278.5,321.0 275.5,321.5 274.0,317.0 271.0,317.0 269.5,314.5 264.0,316.0 253.5,331.5 217.3,317.5" fill="#372a59" stroke="#c170b5" stroke-width="3.6" stroke-linejoin="miter"/>
<polygon points="286.7,281.0 341.0,292.7 334.5,335.5 279.0,322.0" fill="#372a59" stroke="#c170b5" stroke-width="3.6" stroke-linejoin="miter"/>
<polygon points="341.0,296.6 395.5,309.5 386.5,350.5 334.0,337.0" fill="#372a59" stroke="#c170b5" stroke-width="3.6" stroke-linejoin="miter"/>
<polygon points="395.5,309.5 450.5,321.5 443.1,362.7 386.5,350.5" fill="#372a59" stroke="#c170b5" stroke-width="3.6" stroke-linejoin="miter"/>
<polygon points="449.7,324.7 509.3,339.2 506.5,390.7 455.1,388.5 455.5,374.0 452.0,373.0 452.0,366.0 446.0,365.0 443.1,362.7" fill="#372a59" stroke="#c170b5" stroke-width="3.6" stroke-linejoin="miter"/>
<polygon points="452.9,391.5 502.9,393.3 499.3,446.0 447.5,444.5 448.0,418.0 445.5,417.5 445.5,405.5 450.0,405.0" fill="#372a59" stroke="#c170b5" stroke-width="3.6" stroke-linejoin="miter"/>
<polygon points="447.5,446.0 497.5,447.9 495.2,501.7 444.0,499.6 444.5,480.0 441.0,479.5 441.0,465.8 445.5,465.5" fill="#372a59" stroke="#c170b5" stroke-width="3.6" stroke-linejoin="miter"/>
<polygon points="444.0,501.4 497.4,503.4 495.7,560.8 431.4,555.5 431.4,517.5 441.5,517.5" fill="#372a59" stroke="#c170b5" stroke-width="3.6" stroke-linejoin="miter"/>
<polygon points="217.3,317.5 253.5,331.5 246.5,352.0 243.0,351.5 242.0,357.0 244.5,357.5 241.5,366.0 238.0,365.5 230.0,383.3 194.5,370.7" fill="#372a59" stroke="#c170b5" stroke-width="3.6" stroke-linejoin="miter"/>
<polygon points="194.5,370.7 230.0,383.3 226.2,404.6 228.0,405.0 226.0,411.0 224.0,410.5 222.0,416.0 219.5,415.5 211.3,433.8 171.2,421.0" fill="#372a59" stroke="#c170b5" stroke-width="3.6" stroke-linejoin="miter"/>
<polygon points="171.2,421.0 211.3,434.0 197.4,467.8 197.4,482.7 159.2,481.5 159.2,455.0" fill="#372a59" stroke="#c170b5" stroke-width="3.6" stroke-linejoin="miter"/>
<polygon points="159.2,481.5 197.4,482.7 198.5,500.0 206.7,503.3 206.2,542.0 153.5,536.5" fill="#372a59" stroke="#c170b5" stroke-width="3.6" stroke-linejoin="miter"/>
<polygon points="206.7,503.3 226.7,504.5 227.0,500.0 231.0,500.0 231.5,502.0 236.0,502.2 236.5,500.5 240.5,500.7 241.0,505.0 283.0,507.5 283.5,503.5 290.0,503.8 290.0,506.0 296.0,506.3 296.5,504.2 302.0,504.5 302.5,509.0 320.0,510.0 318.3,551.7 206.2,545.0" fill="#dd8ed1" stroke="#c263b3" stroke-width="3.6" stroke-linejoin="miter"/>
<polygon points="374.3,513.9 395.0,515.0 395.3,511.3 403.5,511.6 403.5,510.3 414.5,510.8 414.5,515.8 431.4,517.5 429.6,558.6 372.5,555.0" fill="#dd8ed1" stroke="#c263b3" stroke-width="3.6" stroke-linejoin="miter"/>
<text x="252.5" y="295.8" font-size="16.8" fill="#8b87a8" font-weight="normal" text-anchor="middle" textLength="13.4" lengthAdjust="spacingAndGlyphs" stroke="#8b87a8" stroke-width="0.75">13</text>
<text x="308.3" y="307.20000000000005" font-size="16.8" fill="#8b87a8" font-weight="normal" text-anchor="middle" textLength="13.4" lengthAdjust="spacingAndGlyphs" stroke="#8b87a8" stroke-width="0.75">14</text>
<text x="412.5" y="333.90000000000003" font-size="16.8" fill="#8b87a8" font-weight="normal" text-anchor="middle" textLength="7.6" lengthAdjust="spacingAndGlyphs" stroke="#8b87a8" stroke-width="0.75">1</text>
<text x="472.4" y="354.40000000000003" font-size="16.8" fill="#8b87a8" font-weight="normal" text-anchor="middle" textLength="7.6" lengthAdjust="spacingAndGlyphs" stroke="#8b87a8" stroke-width="0.75">2</text>
<text x="471.8" y="413.90000000000003" font-size="16.8" fill="#8b87a8" font-weight="normal" text-anchor="middle" textLength="7.6" lengthAdjust="spacingAndGlyphs" stroke="#8b87a8" stroke-width="0.75">3</text>
<text x="471.8" y="470.6" font-size="16.8" fill="#8b87a8" font-weight="normal" text-anchor="middle" textLength="7.6" lengthAdjust="spacingAndGlyphs" stroke="#8b87a8" stroke-width="0.75">4</text>
<text x="462.6" y="527.0" font-size="16.8" fill="#8b87a8" font-weight="normal" text-anchor="middle" textLength="7.6" lengthAdjust="spacingAndGlyphs" stroke="#8b87a8" stroke-width="0.75">5</text>
<text x="222.5" y="347.3" font-size="16.8" fill="#8b87a8" font-weight="normal" text-anchor="middle" textLength="13.4" lengthAdjust="spacingAndGlyphs" stroke="#8b87a8" stroke-width="0.75">12</text>
<text x="200.8" y="398.90000000000003" font-size="16.8" fill="#8b87a8" font-weight="normal" text-anchor="middle" textLength="10" lengthAdjust="spacingAndGlyphs" stroke="#8b87a8" stroke-width="0.75">11</text>
<text x="181.7" y="448.90000000000003" font-size="16.8" fill="#8b87a8" font-weight="normal" text-anchor="middle" textLength="13.4" lengthAdjust="spacingAndGlyphs" stroke="#8b87a8" stroke-width="0.75">10</text>
<text x="175.8" y="508.90000000000003" font-size="16.8" fill="#8b87a8" font-weight="normal" text-anchor="middle" textLength="7.6" lengthAdjust="spacingAndGlyphs" stroke="#8b87a8" stroke-width="0.75">9</text>
<text x="251.7" y="311.5" font-size="15" fill="#f1eff6" font-weight="normal" text-anchor="middle" textLength="36.7" lengthAdjust="spacingAndGlyphs" stroke="#f1eff6" stroke-width="0.35">16 пов.</text>
<text x="310" y="320" font-size="15" fill="#f1eff6" font-weight="normal" text-anchor="middle" textLength="33.4" lengthAdjust="spacingAndGlyphs" stroke="#f1eff6" stroke-width="0.35">8 пов.</text>
<text x="416.7" y="348.3" font-size="15" fill="#f1eff6" font-weight="normal" text-anchor="middle" textLength="33.3" lengthAdjust="spacingAndGlyphs" stroke="#f1eff6" stroke-width="0.35">8 пов.</text>
<text x="481.7" y="374.9" font-size="15" fill="#f1eff6" font-weight="normal" text-anchor="middle" textLength="37.5" lengthAdjust="spacingAndGlyphs" stroke="#f1eff6" stroke-width="0.35">16 пов.</text>
<text x="475" y="431.7" font-size="15" fill="#f1eff6" font-weight="normal" text-anchor="middle" textLength="36.6" lengthAdjust="spacingAndGlyphs" stroke="#f1eff6" stroke-width="0.35">14 пов.</text>
<text x="471.7" y="488.3" font-size="15" fill="#f1eff6" font-weight="normal" text-anchor="middle" textLength="36.7" lengthAdjust="spacingAndGlyphs" stroke="#f1eff6" stroke-width="0.35">14 пов.</text>
<text x="465.4" y="546.1" font-size="15" fill="#f1eff6" font-weight="normal" text-anchor="middle" textLength="39.3" lengthAdjust="spacingAndGlyphs" stroke="#f1eff6" stroke-width="0.35">16 пов.</text>
<text x="221.7" y="363.3" font-size="15" fill="#f1eff6" font-weight="normal" text-anchor="middle" textLength="36.7" lengthAdjust="spacingAndGlyphs" stroke="#f1eff6" stroke-width="0.35">14 пов.</text>
<text x="198.3" y="415" font-size="15" fill="#f1eff6" font-weight="normal" text-anchor="middle" textLength="36.7" lengthAdjust="spacingAndGlyphs" stroke="#f1eff6" stroke-width="0.35">14 пов.</text>
<text x="180" y="466.7" font-size="15" fill="#f1eff6" font-weight="normal" text-anchor="middle" textLength="36.6" lengthAdjust="spacingAndGlyphs" stroke="#f1eff6" stroke-width="0.35">14 пов.</text>
<text x="180.8" y="528.3" font-size="15" fill="#f1eff6" font-weight="normal" text-anchor="middle" textLength="38.3" lengthAdjust="spacingAndGlyphs" stroke="#f1eff6" stroke-width="0.35">15 пов.</text>
<text x="364.2" y="316.7" font-size="11.3" fill="#f1eff6" font-weight="normal" text-anchor="middle" textLength="25" lengthAdjust="spacingAndGlyphs" stroke="#f1eff6" stroke-width="0.3">ЦЕНТР</text>
<text x="364.2" y="328.3" font-size="11.3" fill="#f1eff6" font-weight="normal" text-anchor="middle" textLength="41.7" lengthAdjust="spacingAndGlyphs" stroke="#f1eff6" stroke-width="0.3">РОЗВИТКУ</text>
<text x="364.2" y="338.3" font-size="11.3" fill="#f1eff6" font-weight="normal" text-anchor="middle" textLength="31.7" lengthAdjust="spacingAndGlyphs" stroke="#f1eff6" stroke-width="0.3">ДИТИНИ</text>
<text x="234.2" y="533.3" font-size="15.5" fill="#2e2140" font-weight="bold" text-anchor="middle" textLength="21.7" lengthAdjust="spacingAndGlyphs">7-8</text>
<text x="282.5" y="533.3" font-size="10.8" fill="#4a3550" font-weight="normal" text-anchor="middle" textLength="58.4" lengthAdjust="spacingAndGlyphs">БІЗНЕС-ЦЕНТР</text>
<text x="387.6" y="542.5" font-size="15.5" fill="#2e2140" font-weight="bold" text-anchor="middle" textLength="8.9" lengthAdjust="spacingAndGlyphs">6</text>
<text x="410.8" y="535.4" font-size="10.8" fill="#4a3550" font-weight="normal" text-anchor="middle" textLength="30.3" lengthAdjust="spacingAndGlyphs">БІЗНЕС-</text>
<text x="410.9" y="547.9" font-size="10.8" fill="#4a3550" font-weight="normal" text-anchor="middle" textLength="26.8" lengthAdjust="spacingAndGlyphs">ЦЕНТР</text>
<text x="278.6" y="636.3" font-size="13.5" fill="#79787e" font-weight="normal" text-anchor="start" textLength="148.6" lengthAdjust="spacingAndGlyphs" stroke="#79787e" stroke-width="0.2" transform="rotate(2.3 278.6 636.3)">ВУЛ. ВОЛОДИМИРА ВЕЛИКОГО</text>
<text x="0" y="0" font-size="13.5" fill="#79787e" font-weight="normal" text-anchor="start" textLength="82.4" lengthAdjust="spacingAndGlyphs" stroke="#79787e" stroke-width="0.2" transform="translate(660.2 535.7) rotate(-90)">ВУЛ. СТРИЙСЬКА</text>
<path d="M266.7 591.6999999999999 V574.3 H274.53 A4.524 4.524 0 0 1 274.53 583.348 H266.7" fill="none" stroke="#363545" stroke-width="2.4"/>
<path d="M552.0 448.5 V430.3 H560.19 A4.732 4.732 0 0 1 560.19 439.764 H552.0" fill="none" stroke="#363545" stroke-width="2.4"/>
<g transform="translate(43.0,523.0) scale(1.0)" fill="none" stroke="#65646c" stroke-width="1.35" stroke-linecap="round" stroke-linejoin="round"><path d="M1.9 10.5 V6.35 A6.35 6.35 0 0 1 14.6 6.35 V10.5"/><rect x="0" y="10.5" width="16.3" height="11.5" rx="1.7"/><circle cx="8.2" cy="16.3" r="1.9"/></g>
<g transform="translate(56.6,578.3) scale(1.0)" fill="none" stroke="#3b3a42" stroke-width="1.45" stroke-linecap="round" stroke-linejoin="round"><path d="M0 0 L-7.2 11.5 A8.35 8.35 0 1 0 7.2 11.5 Z"/><path d="M5.1 15.8 A5.2 5.2 0 0 1 2.1 20.4"/></g>
<g transform="translate(74.0,466.0) scale(1.0)" fill="none" stroke="#65646c" stroke-width="1.2" stroke-linecap="round" stroke-linejoin="round"><path d="M16.2 6.3 C14.4 7.6 14.2 11.6 16.5 13.4 C18.5 14.3 20.3 12 20.6 8.6 C20.7 6.8 18.6 5.4 16.2 6.3 Z"/><path d="M17.3 5.3 C19.5 4.2 22.5 4.2 24.5 5 C26 5.6 27.2 6.3 28.2 6.9 L31.6 8.2 C32.3 9.5 31.6 10.8 30.5 11 C29.3 11.8 28 12.3 26.6 12.3 L24.8 12.5"/><path d="M24.7 12.5 C25.6 14.5 26.3 16.5 25.9 18.5 C25.5 20.8 24.5 22.5 23.9 24.2 C23.5 25.6 23.8 27 25.2 27.5 L26.1 28.4 H4.2"/><path d="M16.8 13.6 C14 15.6 11.5 17.3 9.6 19.7 C8.2 21.7 7.4 24.2 7.3 27.5"/><path d="M4.2 28.4 C3.2 28.2 3 27 4 26.8 C5.5 26.7 6.8 27 7.4 27.4"/><path d="M16.2 20.9 C17.4 22.2 18.3 23.2 18.3 24.4 L17.8 28.3"/><path d="M18.3 24.4 L20.2 24.6 L20.4 28.2"/><circle cx="25.6" cy="7.7" r="0.5" fill="#65646c"/></g>
<g transform="translate(106.2,391.8) scale(1.0)" fill="none" stroke="#65646c" stroke-width="1.4" stroke-linecap="round" stroke-linejoin="round"><path d="M0 3.8 H21.4"/><path d="M6.3 3.8 V1.4 Q6.3 0 7.6 0 H14.3 Q15.6 0 15.6 1.4 V3.8"/><path d="M2.3 4.2 V20.9 Q2.3 23.1 4.6 23.1 H17.4 Q19.8 23.1 19.8 20.9 V4.2"/><path d="M6.3 7.9 V19.6 M10.7 7.9 V19.6 M15.3 7.9 V19.6"/></g>
<g transform="translate(488.4,308.6) scale(1.0)" fill="none" stroke="#65646c" stroke-width="1.4" stroke-linecap="round" stroke-linejoin="round"><path d="M0 3.8 H21.4"/><path d="M6.3 3.8 V1.4 Q6.3 0 7.6 0 H14.3 Q15.6 0 15.6 1.4 V3.8"/><path d="M2.3 4.2 V20.9 Q2.3 23.1 4.6 23.1 H17.4 Q19.8 23.1 19.8 20.9 V4.2"/><path d="M6.3 7.9 V19.6 M10.7 7.9 V19.6 M15.3 7.9 V19.6"/></g>
<g transform="translate(198.3,278.3) scale(1.0)" fill="none" stroke="#65646c" stroke-width="1.25" stroke-linecap="round" stroke-linejoin="round"><path d="M3.2 10 H0.9 Q0 10 0 9 V5.8 Q0 4.6 1.5 4.2 L7.7 3.2 L11.5 0.7 Q12.5 0 14 0 H19.9 Q21.5 0 22.5 0.7 L27.4 3.5 Q29.2 4.1 29.2 5.6 V8.6 Q29.2 9.8 28 9.9 H25.6"/><path d="M7.8 10 H20.8"/><path d="M8 3.3 L27.2 3.7"/><path d="M15 0.3 V3.4"/><circle cx="5.5" cy="10" r="2.3"/><circle cx="23.2" cy="10" r="2.3"/></g>
<g transform="translate(346.6,364.6) scale(1.1)" fill="none" stroke="#65646c" stroke-linecap="round" stroke-linejoin="round"><circle cx="5.6" cy="6.4" r="1.75" fill="#65646c" stroke="none"/><path d="M1.7 5 L5.7 8.8 L9.8 4.4" stroke-width="1.3"/><path d="M5.7 8.6 V14.2" stroke-width="2.4"/><path d="M5.5 14 L3.4 20.6 M5.9 14 L7.3 20.6" stroke-width="1.5"/><circle cx="16.3" cy="6.6" r="1.75" fill="#65646c" stroke="none"/><path d="M11.4 6.8 L16.3 9.3 L20.2 6.6" stroke-width="1.3"/><path d="M15.1 9.3 H17.5 L18 15.3 H14.6 Z" stroke-width="0.8" fill="#65646c"/><path d="M15.4 15 L14.8 20.6 M17.2 15 L17.9 20.6" stroke-width="1.5"/><circle cx="12.4" cy="1.8" r="1.5" fill="#65646c" stroke="none"/></g>
<g transform="translate(274.0,388.0) scale(1.0)" fill="none" stroke="#65646c" stroke-linecap="round" stroke-linejoin="round"><circle fill="#65646c" cx="21.6" cy="7.7" r="2.35" stroke="none"/><path d="M19.6 11.1 L15.3 16.3" stroke-width="3.5"/><path d="M18.8 10 L13.6 9.8 L10.8 13.4" stroke-width="2.2"/><path d="M20 11.8 L21.9 14.3 L25 11.2" stroke-width="2.2"/><path d="M15.2 16.6 L11.2 19.4 L5.8 19.4" stroke-width="2.7"/><path d="M16 17.2 L18.6 19 L17.7 25" stroke-width="2.7"/><circle fill="#65646c" cx="23.5" cy="25.4" r="2.3" stroke="none"/></g>
<g transform="translate(307.5,419.5) scale(1.0)" fill="none" stroke="#65646c" stroke-linecap="round" stroke-linejoin="round"><circle fill="#65646c" cx="21.6" cy="7.7" r="2.35" stroke="none"/><path d="M19.6 11.1 L15.3 16.3" stroke-width="3.5"/><path d="M18.8 10 L13.6 9.8 L10.8 13.4" stroke-width="2.2"/><path d="M20 11.8 L21.9 14.3 L25 11.2" stroke-width="2.2"/><path d="M15.2 16.6 L11.2 19.4 L5.8 19.4" stroke-width="2.7"/><path d="M16 17.2 L18.6 19 L17.7 25" stroke-width="2.7"/><circle fill="#65646c" cx="23.5" cy="25.4" r="2.3" stroke="none"/></g>
<g transform="translate(223.5,440.5) scale(1.0)" fill="none" stroke="#65646c" stroke-linecap="round" stroke-linejoin="round"><circle fill="#65646c" cx="21.6" cy="7.7" r="2.35" stroke="none"/><path d="M19.6 11.1 L15.3 16.3" stroke-width="3.5"/><path d="M18.8 10 L13.6 9.8 L10.8 13.4" stroke-width="2.2"/><path d="M20 11.8 L21.9 14.3 L25 11.2" stroke-width="2.2"/><path d="M15.2 16.6 L11.2 19.4 L5.8 19.4" stroke-width="2.7"/><path d="M16 17.2 L18.6 19 L17.7 25" stroke-width="2.7"/><circle fill="#65646c" cx="23.5" cy="25.4" r="2.3" stroke="none"/></g>
<path d="M55.7 550.5 Q66 552 76.6 557.4 Q92 566 97.5 581.8 Q100 605 79 626 Q68 630 53.4 628 Q30 626 19.7 614.3 Q15 606 18.1 598 Q22 570 32.5 558.6 Q42 551 55.7 550.5 Z" fill="none" stroke="#bcaab8" stroke-width="1.0" stroke-linejoin="round" stroke-linecap="round"/>
<path d="M623.86 150.68 A25.5 25.5 0 0 0 608.62 135.44" fill="none" stroke="#b062a6" stroke-width="2.0" stroke-linecap="round"/>
<path d="M591.18 135.44 A25.5 25.5 0 0 0 575.94 150.68" fill="none" stroke="#b062a6" stroke-width="2.0" stroke-linecap="round"/>
<path d="M575.94 168.12 A25.5 25.5 0 0 0 591.18 183.36" fill="none" stroke="#b062a6" stroke-width="2.0" stroke-linecap="round"/>
<path d="M608.62 183.36 A25.5 25.5 0 0 0 623.86 168.12" fill="none" stroke="#b062a6" stroke-width="2.0" stroke-linecap="round"/>
<polygon points="599.9,142.7 605.5,153.8 616.6,159.4 605.5,165.0 599.9,176.1 594.3,165.0 583.2,159.4 594.3,153.8" fill="none" stroke="#b062a6" stroke-width="1.9" stroke-linejoin="round"/>
<circle cx="599.9" cy="159.4" r="2.9" fill="none" stroke="#b062a6" stroke-width="1.7"/>
<path d="M607.24 146.43 L615.39 143.91 L612.87 152.06" fill="none" stroke="#b062a6" stroke-width="1.7" stroke-linejoin="round" stroke-linecap="round"/>
<path d="M586.93 152.06 L584.41 143.91 L592.56 146.43" fill="none" stroke="#b062a6" stroke-width="1.7" stroke-linejoin="round" stroke-linecap="round"/>
<path d="M592.56 172.37 L584.41 174.89 L586.93 166.74" fill="none" stroke="#b062a6" stroke-width="1.7" stroke-linejoin="round" stroke-linecap="round"/>
<path d="M612.87 166.74 L615.39 174.89 L607.24 172.37" fill="none" stroke="#b062a6" stroke-width="1.7" stroke-linejoin="round" stroke-linecap="round"/>
<text x="599.8" y="136.6" font-size="14" fill="#b062a6" font-weight="bold" text-anchor="middle">N</text>
<text x="600.0" y="190.8" font-size="14" fill="#b062a6" font-weight="bold" text-anchor="middle">S</text>
<text x="573.3" y="164.7" font-size="14" fill="#b062a6" font-weight="bold" text-anchor="middle">W</text>
<text x="626.2" y="164.7" font-size="14" fill="#b062a6" font-weight="bold" text-anchor="middle">E</text>
<text x="118.8" y="72.4" font-size="14" fill="#3f3e45" font-weight="normal" text-anchor="start" textLength="96.9" lengthAdjust="spacingAndGlyphs" stroke="#3f3e45" stroke-width="0.35">закрита територія</text>
<text x="118.8" y="93.8" font-size="14" fill="#3f3e45" font-weight="normal" text-anchor="start" textLength="252.3" lengthAdjust="spacingAndGlyphs" stroke="#3f3e45" stroke-width="0.35">окремий ігровий майданчик дитячого садочку</text>
<text x="118.8" y="115.0" font-size="14" fill="#3f3e45" font-weight="normal" text-anchor="start" textLength="155.1" lengthAdjust="spacingAndGlyphs" stroke="#3f3e45" stroke-width="0.35">майданчик для вигулу собак</text>
<text x="118.8" y="136.2" font-size="14" fill="#3f3e45" font-weight="normal" text-anchor="start" textLength="120.9" lengthAdjust="spacingAndGlyphs" stroke="#3f3e45" stroke-width="0.35">спортивні майданчики</text>
<text x="413.9" y="72.6" font-size="14" fill="#3f3e45" font-weight="normal" text-anchor="start" textLength="167.6" lengthAdjust="spacingAndGlyphs" stroke="#3f3e45" stroke-width="0.35">підземні контейнери для сміття</text>
<text x="413.9" y="93.7" font-size="14" fill="#3f3e45" font-weight="normal" text-anchor="start" textLength="166.8" lengthAdjust="spacingAndGlyphs" stroke="#3f3e45" stroke-width="0.35">зовнішній паркінг на 200 місць</text>
<text x="413.9" y="114.4" font-size="14" fill="#3f3e45" font-weight="normal" text-anchor="start" textLength="169.8" lengthAdjust="spacingAndGlyphs" stroke="#3f3e45" stroke-width="0.35">підземний паркінг на 270 місць</text>
<text x="413.9" y="135.2" font-size="14" fill="#3f3e45" font-weight="normal" text-anchor="start" textLength="31.1" lengthAdjust="spacingAndGlyphs" stroke="#3f3e45" stroke-width="0.35">озеро</text>
<g transform="translate(90.8,57.6) scale(0.65)" fill="none" stroke="#65646c" stroke-width="1.846153846153846" stroke-linecap="round" stroke-linejoin="round"><path d="M1.9 10.5 V6.35 A6.35 6.35 0 0 1 14.6 6.35 V10.5"/><rect x="0" y="10.5" width="16.3" height="11.5" rx="1.7"/><circle cx="8.2" cy="16.3" r="1.9"/></g>
<g transform="translate(86.0,77.0) scale(1.0)" fill="none" stroke="#65646c" stroke-linecap="round" stroke-linejoin="round"><circle cx="5.6" cy="6.4" r="1.75" fill="#65646c" stroke="none"/><path d="M1.7 5 L5.7 8.8 L9.8 4.4" stroke-width="1.3"/><path d="M5.7 8.6 V14.2" stroke-width="2.4"/><path d="M5.5 14 L3.4 20.6 M5.9 14 L7.3 20.6" stroke-width="1.5"/><circle cx="16.3" cy="6.6" r="1.75" fill="#65646c" stroke="none"/><path d="M11.4 6.8 L16.3 9.3 L20.2 6.6" stroke-width="1.3"/><path d="M15.1 9.3 H17.5 L18 15.3 H14.6 Z" stroke-width="0.8" fill="#65646c"/><path d="M15.4 15 L14.8 20.6 M17.2 15 L17.9 20.6" stroke-width="1.5"/><circle cx="12.4" cy="1.8" r="1.5" fill="#65646c" stroke="none"/></g>
<g transform="translate(83.2,98.9) scale(0.706)" fill="none" stroke="#65646c" stroke-width="1.4872521246458925" stroke-linecap="round" stroke-linejoin="round"><path d="M16.2 6.3 C14.4 7.6 14.2 11.6 16.5 13.4 C18.5 14.3 20.3 12 20.6 8.6 C20.7 6.8 18.6 5.4 16.2 6.3 Z"/><path d="M17.3 5.3 C19.5 4.2 22.5 4.2 24.5 5 C26 5.6 27.2 6.3 28.2 6.9 L31.6 8.2 C32.3 9.5 31.6 10.8 30.5 11 C29.3 11.8 28 12.3 26.6 12.3 L24.8 12.5"/><path d="M24.7 12.5 C25.6 14.5 26.3 16.5 25.9 18.5 C25.5 20.8 24.5 22.5 23.9 24.2 C23.5 25.6 23.8 27 25.2 27.5 L26.1 28.4 H4.2"/><path d="M16.8 13.6 C14 15.6 11.5 17.3 9.6 19.7 C8.2 21.7 7.4 24.2 7.3 27.5"/><path d="M4.2 28.4 C3.2 28.2 3 27 4 26.8 C5.5 26.7 6.8 27 7.4 27.4"/><path d="M16.2 20.9 C17.4 22.2 18.3 23.2 18.3 24.4 L17.8 28.3"/><path d="M18.3 24.4 L20.2 24.6 L20.4 28.2"/><circle cx="25.6" cy="7.7" r="0.5" fill="#65646c"/></g>
<g transform="translate(84.4,119.8) scale(0.7)" fill="none" stroke="#65646c" stroke-linecap="round" stroke-linejoin="round"><circle fill="#65646c" cx="21.6" cy="7.7" r="2.35" stroke="none"/><path d="M19.6 11.1 L15.3 16.3" stroke-width="3.5"/><path d="M18.8 10 L13.6 9.8 L10.8 13.4" stroke-width="2.2"/><path d="M20 11.8 L21.9 14.3 L25 11.2" stroke-width="2.2"/><path d="M15.2 16.6 L11.2 19.4 L5.8 19.4" stroke-width="2.7"/><path d="M16 17.2 L18.6 19 L17.7 25" stroke-width="2.7"/><circle fill="#65646c" cx="23.5" cy="25.4" r="2.3" stroke="none"/></g>
<g transform="translate(384.8,62.7) scale(0.52 0.575)" fill="none" stroke="#65646c" stroke-width="2.3076923076923075" stroke-linecap="round" stroke-linejoin="round"><path d="M0 3.8 H21.4"/><path d="M6.3 3.8 V1.4 Q6.3 0 7.6 0 H14.3 Q15.6 0 15.6 1.4 V3.8"/><path d="M2.3 4.2 V20.9 Q2.3 23.1 4.6 23.1 H17.4 Q19.8 23.1 19.8 20.9 V4.2"/><path d="M6.3 7.9 V19.6 M10.7 7.9 V19.6 M15.3 7.9 V19.6"/></g>
<path d="M387.5 96.6 V84.5 H392.945 A3.146 3.146 0 0 1 392.945 90.792 H387.5" fill="none" stroke="#65646c" stroke-width="1.6"/>
<g transform="translate(380.4,106.4) scale(0.7)" fill="none" stroke="#65646c" stroke-width="1.7142857142857144" stroke-linecap="round" stroke-linejoin="round"><path d="M3.2 10 H0.9 Q0 10 0 9 V5.8 Q0 4.6 1.5 4.2 L7.7 3.2 L11.5 0.7 Q12.5 0 14 0 H19.9 Q21.5 0 22.5 0.7 L27.4 3.5 Q29.2 4.1 29.2 5.6 V8.6 Q29.2 9.8 28 9.9 H25.6"/><path d="M7.8 10 H20.8"/><path d="M8 3.3 L27.2 3.7"/><path d="M15 0.3 V3.4"/><circle cx="5.5" cy="10" r="2.3"/><circle cx="23.2" cy="10" r="2.3"/></g>
<g transform="translate(391.4,123.0) scale(0.67)" fill="none" stroke="#65646c" stroke-width="1.9402985074626866" stroke-linecap="round" stroke-linejoin="round"><path d="M0 0 L-7.2 11.5 A8.35 8.35 0 1 0 7.2 11.5 Z"/><path d="M5.1 15.8 A5.2 5.2 0 0 1 2.1 20.4"/></g>
</g></svg></body></html>
